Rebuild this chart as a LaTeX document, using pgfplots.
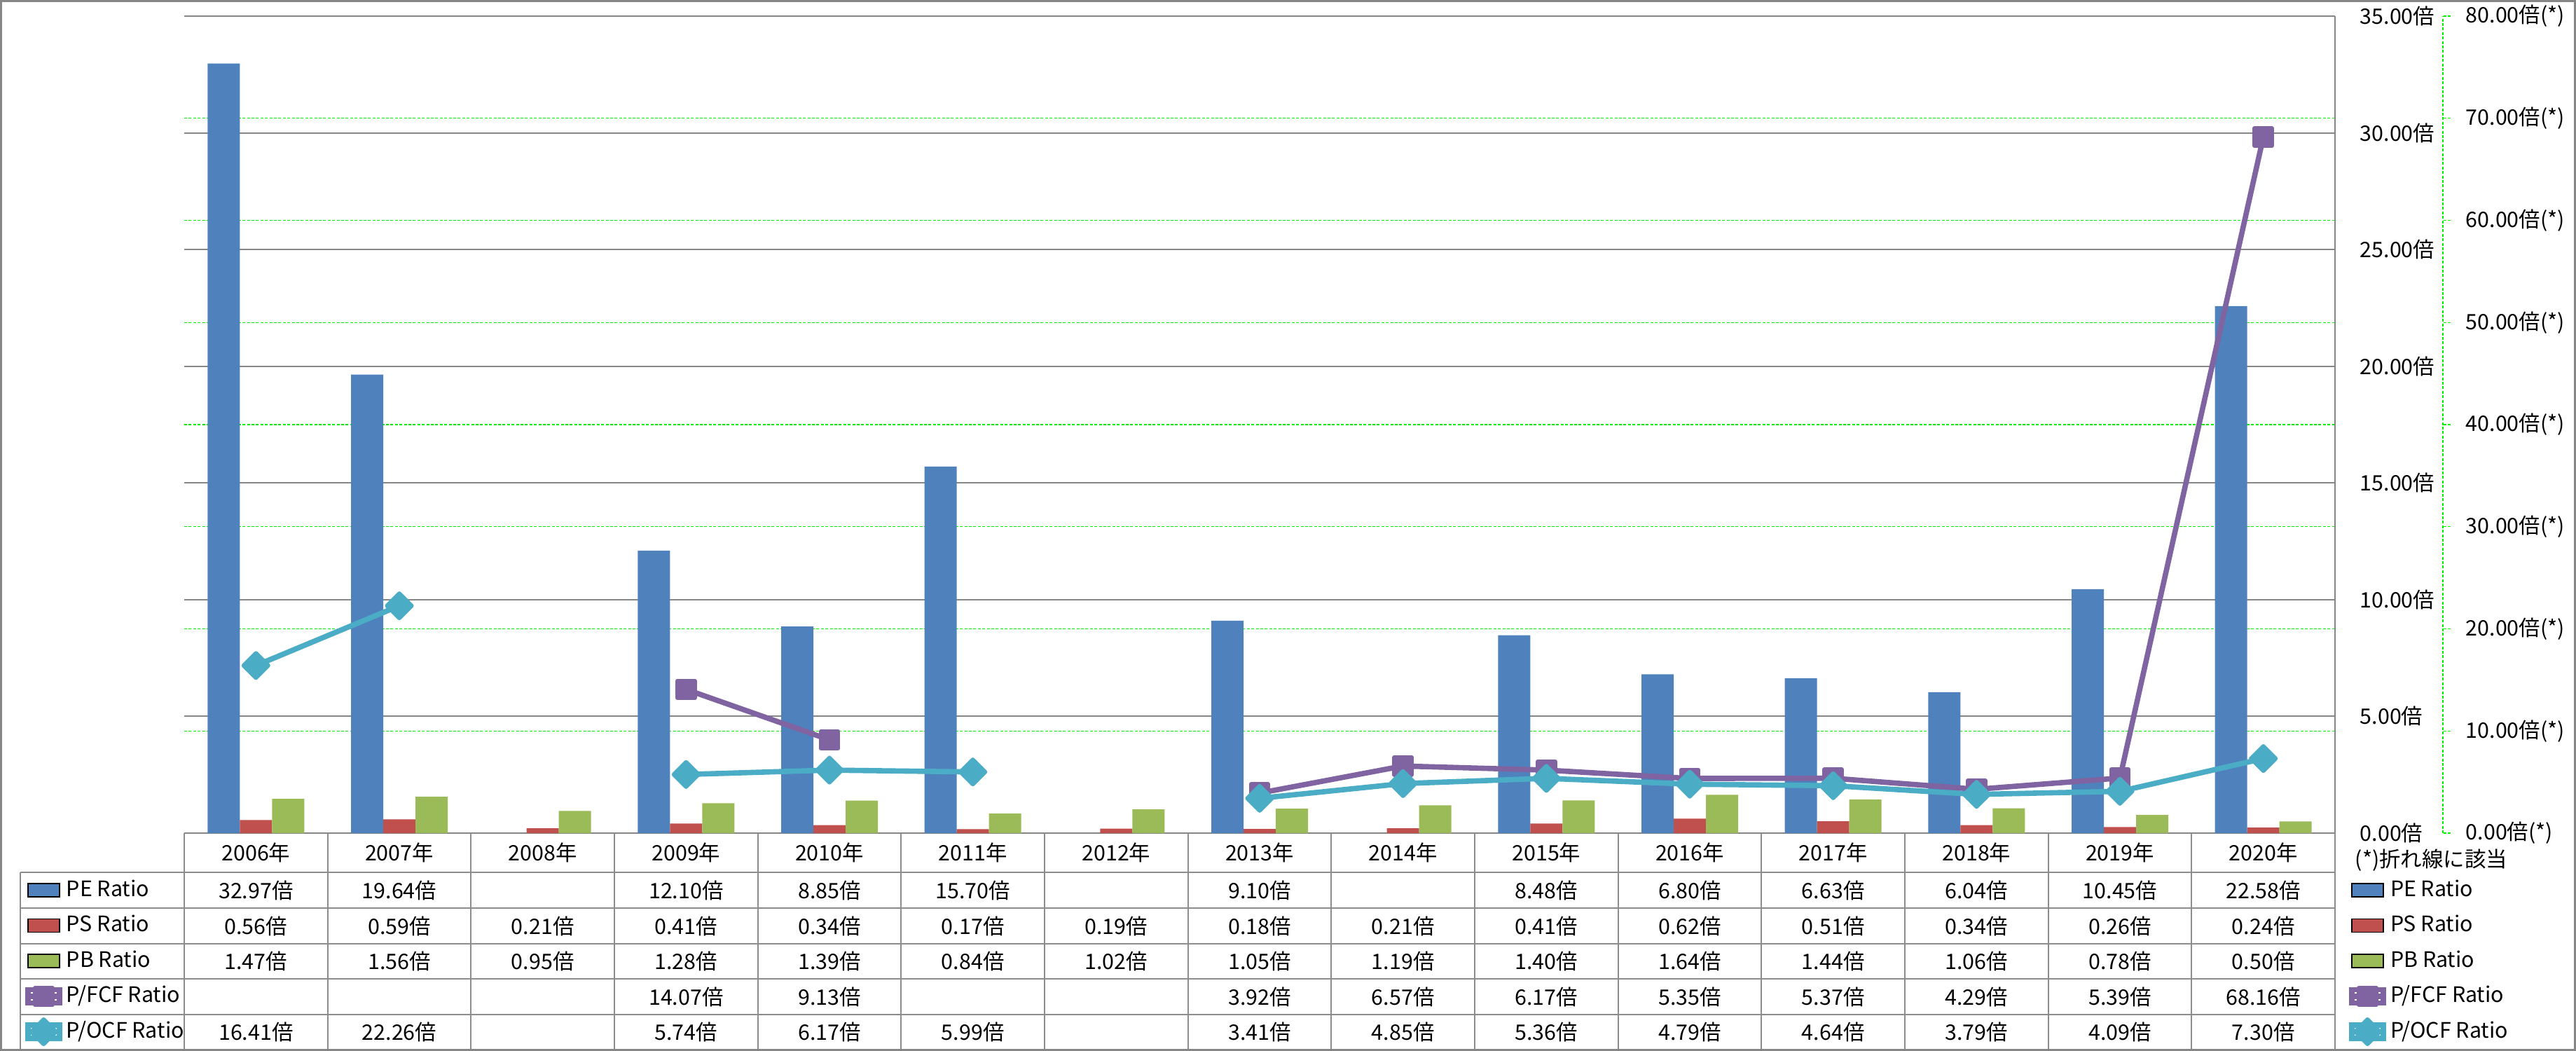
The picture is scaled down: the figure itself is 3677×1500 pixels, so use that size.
\documentclass[border=0pt]{standalone}
\usepackage{fontspec}
\setmainfont{Noto Sans CJK JP}
\usepackage{pgfplots}
\pgfplotsset{compat=1.18}
\usepackage{pgfplotstable}

\definecolor{cPE}{HTML}{4F81BD}
\definecolor{cPS}{HTML}{C0504D}
\definecolor{cPB}{HTML}{9BBB59}
\definecolor{cFCF}{HTML}{8064A2}
\definecolor{cOCF}{HTML}{4BACC6}
\definecolor{gridgrey}{HTML}{868686}
\definecolor{tblgrey}{HTML}{8C8C8C}
\definecolor{gline}{HTML}{00F000}

\pgfplotstableread{
x  pe    ps   pb   fcf   ocf
0  32.97 0.56 1.47 nan   16.41
1  19.64 0.59 1.56 nan   22.26
2  nan   0.21 0.95 nan   nan
3  12.10 0.41 1.28 14.07 5.74
4  8.85  0.34 1.39 9.13  6.17
5  15.70 0.17 0.84 nan   5.99
6  nan   0.19 1.02 nan   nan
7  9.10  0.18 1.05 3.92  3.41
8  nan   0.21 1.19 6.57  4.85
9  8.48  0.41 1.40 6.17  5.36
10 6.80  0.62 1.64 5.35  4.79
11 6.63  0.51 1.44 5.37  4.64
12 6.04  0.34 1.06 4.29  3.79
13 10.45 0.26 0.78 5.39  4.09
14 22.58 0.24 0.50 68.16 7.30
}\data

\newcommand\tabfont{\fontsize{7.6pt}{9pt}\selectfont}
\def\nanstr{nan}

\pgfplotsset{
  common/.style={at={(65.75pt,-297.25pt)}, anchor=south west,
    width=767.5pt, height=291.5pt, scale only axis,
    xmin=-0.5, xmax=14.5, clip=false},
  barleg/.style={legend image code/.code={\fill[##1] (0pt,-2.375pt) rectangle (11.25pt,2.375pt);}},
  lineleg/.style={legend image code/.code={%
    \path (0pt,-2.375pt) rectangle (11.25pt,2.375pt);
    \draw[overlay, mark repeat=2,mark phase=2,##1] plot coordinates {(-0.75pt,0pt) (5.625pt,0pt) (12pt,0pt)};}},
  fcfstyle/.style={cFCF, line width=1.9pt, mark=square*, mark size=3.1pt,
    mark options={solid, line join=round, line width=1.5pt, fill=cFCF}},
  ocfstyle/.style={cOCF, line width=1.9pt, mark=square*, mark size=3.1pt,
    mark options={solid, rotate=45, line join=round, line width=1.5pt, fill=cOCF}},
  tblleg/.style={legend style={draw=none, fill=none, inner sep=0pt, outer sep=0pt,
      font=\tabfont, row sep=4.625pt, column sep=1.6pt,
      nodes={inner sep=0pt, text height=6.2pt, text depth=1.8pt}},
    legend cell align=left},
}

\begin{document}
\begin{tikzpicture}
% secondary (line) scale: green grid and its axis
\begin{axis}[common, ymin=0, ymax=80, ytick={0,10,...,80}, xtick=\empty,
  axis x line=none, axis y line*=right, axis y line shift=38.5pt,
  y axis line style={gline, line width=0.35pt, dash pattern=on 1pt off 0.6pt},
  ymajorgrids, major grid style={gline, line width=0.35pt, dash pattern=on 1pt off 0.6pt},
  ytick style={gline, line width=0.35pt, dash pattern=on 1pt off 0.6pt},
  tick align=outside, major tick length=2.75pt,
  yticklabel={\pgfmathprintnumber[fixed,fixed zerofill,precision=2,assume math mode=true]{\tick}倍(*)},
  yticklabel style={font=\tabfont, anchor=west, inner sep=0pt, xshift=5.25pt},
  tblleg, legend style={at={(1.00651,-0.05618)}, anchor=north west},
]
\addlegendimage{barleg, fill=cPE}
\addlegendimage{barleg, fill=cPS}
\addlegendimage{barleg, fill=cPB}
\addlegendimage{lineleg, fcfstyle}
\addlegendimage{lineleg, ocfstyle}
\legend{PE Ratio, PS Ratio, PB Ratio, P/FCF Ratio, P/OCF Ratio}
\end{axis}

% bars
\begin{axis}[common, ymin=0, ymax=35, ytick={0,5,...,35},
  ybar=0pt, bar width=11.5pt,
  axis x line*=bottom, axis y line*=right,
  axis line style={gridgrey, line width=0.5pt},
  ymajorgrids, major grid style={gridgrey, line width=0.5pt},
  major tick length=0pt,
  xtick={0,...,14},
  xticklabels={2006年,2007年,2008年,2009年,2010年,2011年,2012年,2013年,2014年,2015年,2016年,2017年,2018年,2019年,2020年},
  xticklabel style={font=\tabfont, anchor=center, inner sep=0pt, yshift=-7pt},
  yticklabel={\pgfmathprintnumber[fixed,fixed zerofill,precision=2,assume math mode=true]{\tick}倍},
  yticklabel style={font=\tabfont, anchor=west, inner sep=0pt, xshift=8.75pt},
]
\addplot[fill=cPE, draw=none] table[x=x, y=pe]{\data};
\addplot[fill=cPS, draw=none] table[x=x, y=ps]{\data};
\addplot[fill=cPB, draw=none] table[x=x, y=pb]{\data};
\end{axis}

% lines
\begin{axis}[common, ymin=0, ymax=80, axis line style={draw=none},
  xtick=\empty, ytick=\empty, unbounded coords=jump,
  tblleg, legend style={at={(-0.07394,-0.05618)}, anchor=north west},
]
\addplot[fcfstyle, forget plot] table[x=x, y=fcf]{\data};
\addplot[ocfstyle, forget plot] table[x=x, y=ocf]{\data};
\addlegendimage{barleg, fill=cPE}
\addlegendimage{barleg, fill=cPS}
\addlegendimage{barleg, fill=cPB}
\addlegendimage{lineleg, fcfstyle}
\addlegendimage{lineleg, ocfstyle}
\legend{PE Ratio, PS Ratio, PB Ratio, P/FCF Ratio, P/OCF Ratio}
\end{axis}

\begin{scope}[x=0.25pt, y=-0.25pt]
  \path[use as bounding box] (0,0) rectangle (3677,1500);
  % table grid
  \begin{scope}[tblgrey, line width=0.5pt]
    \foreach \yy in {1245,1296,1347,1397,1448}{\draw (29,\yy) -- (3333,\yy);}
    \draw (29,1245) -- (29,1498);
    \foreach \k in {0,...,15}{\draw ({263+204.667*\k},1189) -- ({263+204.667*\k},1498);}
  \end{scope}
  % table values
  \foreach \col/\yy in {pe/1270.5, ps/1321.5, pb/1372, fcf/1422.5, ocf/1473}{
    \foreach \r in {0,...,14}{
      \pgfplotstablegetelem{\r}{\col}\of\data
      \ifx\pgfplotsretval\nanstr\else
        \node[font=\tabfont, inner sep=0pt] at ({263+204.667*(\r+0.5)},\yy)
          {\pgfmathprintnumber[fixed,fixed zerofill,precision=2,assume math mode=true]{\pgfplotsretval}倍};
      \fi
    }
  }
  \node[font=\tabfont, anchor=west, inner sep=0pt] at (3361,1228) {(*)折れ線に該当};
  % chart border
  \draw[gridgrey, line width=0.75pt] (1.5,1.5) rectangle (3675.5,1498.5);
\end{scope}
\end{tikzpicture}
\end{document}
